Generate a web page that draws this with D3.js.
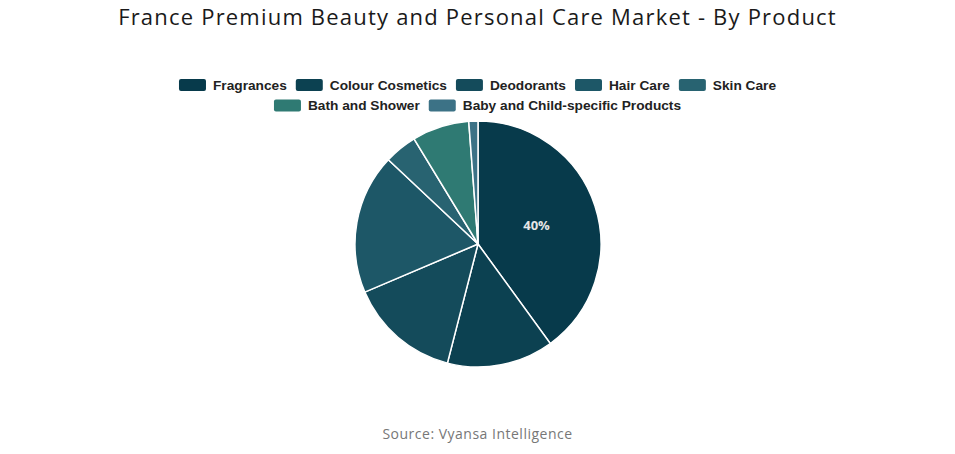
<!DOCTYPE html>
<html>
<head>
<meta charset="utf-8">
<script src="https://cdn.jsdelivr.net/npm/d3@7"></script>
<style>
  body { margin: 0; background: #fff; }
  svg { display: block; }
</style>
</head>
<body>
<div id="chart"></div>
<script>
// chart data
const categories = ["Fragrances", "Colour Cosmetics", "Deodorants", "Hair Care", "Skin Care", "Bath and Shower", "Baby and Child-specific Products"];
const shares = [40, 14, 14.6, 18.4, 4.3, 7.5, 1.2];
const colors = ["#073a4b", "#0c4151", "#144b5b", "#1d5767", "#286371", "#2f7a73", "#3c7286"];

const width = 955, height = 454;

const svg = d3.select("#chart")
    .append("svg")
    .attr("width", width)
    .attr("height", height);

// title
svg.append("text")
    .attr("x", width / 2)
    .attr("y", 25)
    .attr("text-anchor", "middle")
    .style("font-family", "'Open Sans', sans-serif")
    .style("font-size", "22px")
    .style("letter-spacing", "1.2px")
    .style("fill", "#1a1a1a")
    .text("France Premium Beauty and Personal Care Market - By Product");

// legend, wrapped into centered rows
const legend = svg.append("g").style("font-family", "'Liberation Sans', Arial, sans-serif")
    .style("font-size", "13.7px").style("font-weight", "bold");
const swW = 27, swH = 12, swGap = 7, itemGap = 9, maxRow = 620;
const items = categories.map((c, i) => {
    const t = legend.append("text").text(c).style("fill", "#222");
    const w = t.node().getComputedTextLength();
    return {name: c, color: colors[i], node: t, w: swW + swGap + w};
});
let rows = [[]], rowW = [0];
items.forEach(it => {
    let r = rows.length - 1;
    const add = (rows[r].length ? itemGap : 0) + it.w;
    if (rowW[r] + add > maxRow && rows[r].length) {
        rows.push([it]); rowW.push(it.w);
    } else {
        rows[r].push(it); rowW[r] += add;
    }
});
rows.forEach((row, ri) => {
    let x = width / 2 - rowW[ri] / 2;
    const y = 85 + ri * 20.5;
    row.forEach(it => {
        legend.append("rect")
            .attr("x", x).attr("y", y - swH / 2)
            .attr("width", swW).attr("height", swH)
            .attr("rx", 2)
            .attr("fill", it.color);
        it.node.attr("x", x + swW + swGap).attr("y", y).attr("dy", "0.36em");
        x += it.w + itemGap;
    });
});

// pie
const cx = 478, cy = 244, radius = 123;
const pie = d3.pie().sort(null).value(d => d);
const arc = d3.arc().innerRadius(0).outerRadius(radius);
const labelArc = d3.arc().innerRadius(radius * 0.5).outerRadius(radius * 0.5);

const g = svg.append("g").attr("transform", `translate(${cx},${cy})`);
const arcs = pie(shares);

g.selectAll("path")
    .data(arcs)
    .join("path")
    .attr("d", arc)
    .attr("fill", (d, i) => colors[i])
    .attr("stroke", "#fff")
    .attr("stroke-width", 1.5);

// only the big slice carries a label
g.selectAll("text.lbl")
    .data(arcs.filter(d => d.data >= 30))
    .join("text")
    .attr("class", "lbl")
    .attr("transform", d => `translate(${labelArc.centroid(d)})`)
    .attr("text-anchor", "middle")
    .attr("dy", "0.35em")
    .style("font-family", "'Open Sans', sans-serif")
    .style("font-size", "13px")
    .style("font-weight", "bold")
    .style("fill", "#e6e6e6")
    .text(d => Math.round(d.data) + "%");

// source
svg.append("text")
    .attr("x", width / 2)
    .attr("y", 439)
    .attr("text-anchor", "middle")
    .style("font-family", "'Open Sans', sans-serif")
    .style("font-size", "14px")
    .style("letter-spacing", "0.5px")
    .style("fill", "#777")
    .text("Source: Vyansa Intelligence");
</script>
</body>
</html>
